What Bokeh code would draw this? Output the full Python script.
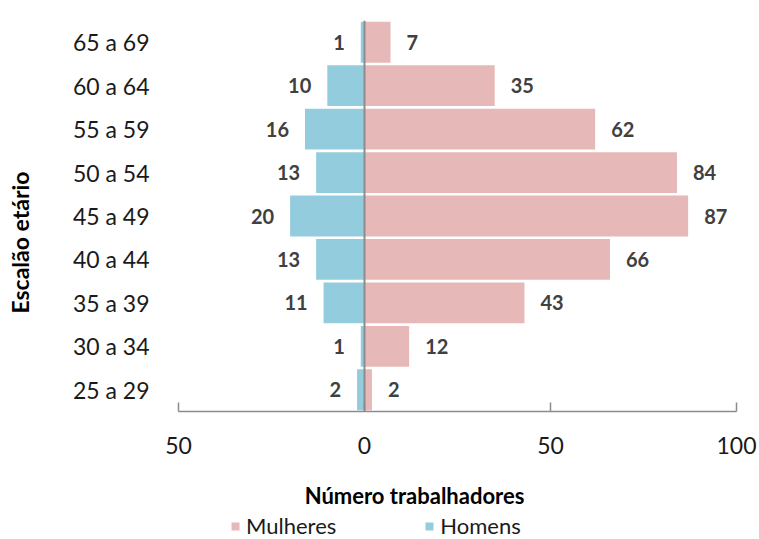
import math
from bokeh.plotting import figure
from bokeh.layouts import column, row
from bokeh.models import (ColumnDataSource, FactorRange, Range1d, FixedTicker, Span, Legend,
                          LegendItem, Label)
from bokeh.core.properties import value
from bokeh.embed import file_html
from bokeh.resources import INLINE

categories = ["25 a 29", "30 a 34", "35 a 39", "40 a 44", "45 a 49", "50 a 54", "55 a 59", "60 a 64", "65 a 69"]
mulheres = [2, 12, 43, 66, 87, 84, 62, 35, 7]
homens = [2, 1, 11, 13, 20, 13, 16, 10, 1]
x_ticks = [-50, 0, 50, 100]
x_tick_labels = {-50: "50", 0: "0", 50: "50", 100: "100"}
series_names = ["Mulheres", "Homens"]
x_title = "Número trabalhadores"
y_title = "Escalão etário"

PINK = "#E6B9B8"
BLUE = "#93CDDD"
FONT = "Lato"
TXT = "#1a1a1a"

src = ColumnDataSource(dict(
    cat=categories,
    m=mulheres,
    h=[-v for v in homens],
    m_lbl=[str(v) for v in mulheres],
    h_lbl=[str(v) for v in homens],
))


def bare(fig):
    fig.outline_line_color = None
    fig.xgrid.visible = False
    fig.ygrid.visible = False
    return fig


# ---- main chart ----
p = figure(width=719, height=470, y_range=FactorRange(*categories, range_padding=0),
           x_range=Range1d(-50, 100), output_backend="svg", toolbar_location=None,
           min_border_left=138, min_border_right=23, min_border_top=20, min_border_bottom=59)
bare(p)

rm = p.hbar(y="cat", right="m", left=0, height=0.94, source=src, fill_color=PINK, line_color=None)
rh = p.hbar(y="cat", right=0, left="h", height=0.94, source=src, fill_color=BLUE, line_color=None)

p.add_layout(Span(location=0, dimension="height", line_color="#8C8C8C", line_width=2))

p.text(x="m", y="cat", text="m_lbl", source=src, x_offset=16, text_align="left", text_baseline="middle",
       text_font=value(FONT), text_font_style="bold", text_font_size="20px", text_color="#404040")
p.text(x="h", y="cat", text="h_lbl", source=src, x_offset=-16, text_align="right", text_baseline="middle",
       text_font=value(FONT), text_font_style="bold", text_font_size="20px", text_color="#404040")

xa = p.xaxis[0]
xa.ticker = FixedTicker(ticks=x_ticks)
xa.major_label_overrides = x_tick_labels
xa.minor_tick_line_color = None
xa.major_tick_in = 9
xa.major_tick_out = 0
xa.axis_line_color = "#8C8C8C"
xa.axis_line_width = 1.5
xa.major_tick_line_color = "#8C8C8C"
xa.major_tick_line_width = 1.5
xa.major_label_text_font = FONT
xa.major_label_text_font_size = "23px"
xa.major_label_text_color = TXT
xa.major_label_standoff = 25

ya = p.yaxis[0]
ya.axis_line_color = None
ya.major_tick_line_color = None
ya.minor_tick_line_color = None
ya.major_label_text_font = FONT
ya.major_label_text_font_size = "23px"
ya.major_label_text_color = TXT
ya.major_label_standoff = 23

# ---- y axis title strip (its frame is aligned with the main frame: bottom at page y=411) ----
yt = figure(width=40, height=470, x_range=Range1d(0, 1), y_range=Range1d(0, 1),
            x_axis_type=None, y_axis_type=None, output_backend="svg", toolbar_location=None,
            min_border=0)
bare(yt)
yt.add_layout(Label(x=19, y=169, x_units="screen", y_units="screen", text=y_title, angle=math.pi / 2,
                    text_align="center", text_baseline="middle", text_font=FONT,
                    text_font_size="23px", text_font_style="bold", text_color="#000000"))

# ---- bottom strip: x title + legend ----
bt = figure(width=759, height=69, x_range=Range1d(0, 1), y_range=Range1d(0, 1),
            x_axis_type=None, y_axis_type=None, output_backend="svg", toolbar_location=None,
            min_border=0)
bare(bt)
bt.add_layout(Label(x=414, y=44, x_units="screen", y_units="screen", text=x_title,
                    text_align="center", text_baseline="middle", text_font=FONT,
                    text_font_size="22px", text_font_style="bold", text_color="#000000"))
# legend key renderers (zero-size bars; only their legend swatches show)
lm = bt.hbar(y=[0.5], left=[0], right=[0], height=0, fill_color=PINK, line_color=None)
lh = bt.hbar(y=[0.5], left=[0], right=[0], height=0, fill_color=BLUE, line_color=None)
legend = Legend(items=[LegendItem(label=series_names[0], renderers=[lm]),
                       LegendItem(label=series_names[1], renderers=[lh])],
                orientation="horizontal", location=(230, 0), border_line_color=None,
                background_fill_alpha=0, padding=0, margin=0, spacing=88,
                glyph_width=10, glyph_height=10, label_standoff=6,
                label_text_font=FONT, label_text_font_size="22px", label_text_color=TXT)
bt.add_layout(legend, "center")

layout = column(row(yt, p), bt)
open("out.html", "w").write(file_html(layout, INLINE))
